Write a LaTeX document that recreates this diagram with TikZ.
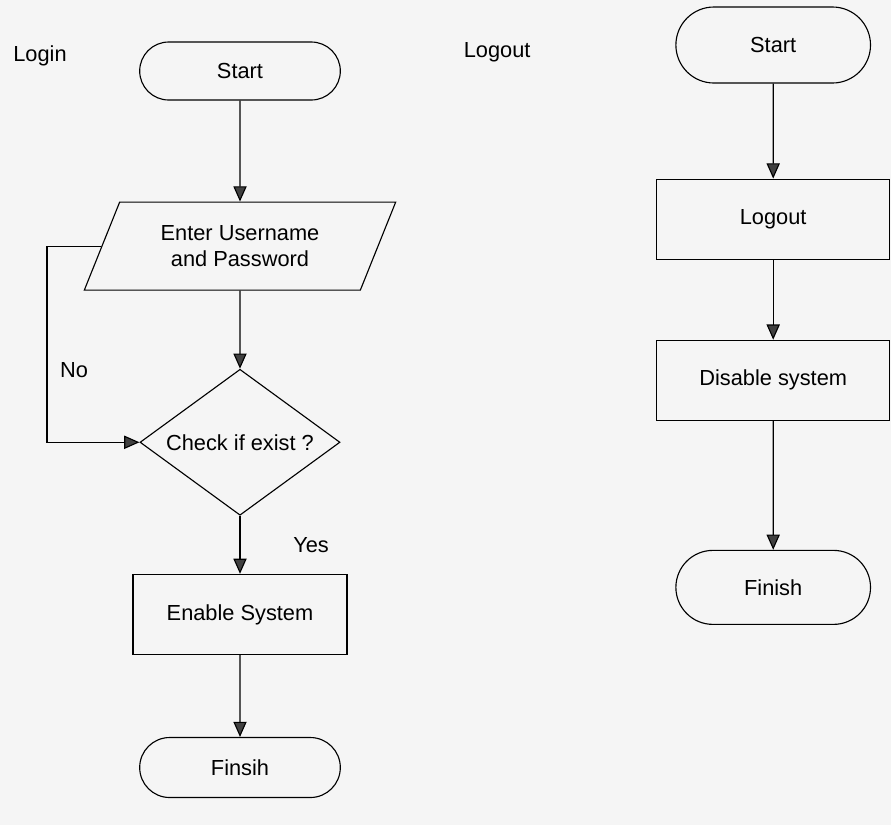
\documentclass[tikz,border=0pt]{standalone}
\usepackage{fontspec}
\setmainfont{Liberation Sans}
\usetikzlibrary{arrows.meta,positioning,shapes.geometric,shapes.misc}
\tikzset{pre/.style={<-,>={Triangle[width=3.3mm,length=3.8mm,fill=black!75]},line width=0.8pt},
		post/.style={->,>={Triangle[width=3.3mm,length=3.8mm,fill=black!75]},line width=0.8pt}}

\begin{document}
\begin{tikzpicture}[font=\fontsize{15.5}{18.5}\selectfont,
		terminal/.style={rounded rectangle,draw=black,line width=0.8pt,minimum width=5.25cm,minimum height=1.45cm},
		io/.style={trapezium,trapezium left angle=64,trapezium right angle=116,trapezium stretches=true,draw=black,line width=0.8pt,minimum width=7.8cm,minimum height=2.2cm,align=center},
		decision/.style={diamond,draw=black,line width=0.8pt,aspect=1.37,inner sep=0pt,minimum width=5cm,minimum height=3.65cm},
		process/.style={rectangle,draw=black,line width=0.8pt,minimum width=5.35cm,minimum height=2cm}]
		\fill[black!4] (0,0) rectangle (22.275,-20.625);
		\useasboundingbox (0,0) rectangle (22.275,-20.625);
		
		% login
		\node (login-title) at (1.0,-1.4) {Login};
		\node[terminal] (login-start) at (6.0,-1.775) {Start};
		\node[io] (enter) [below=2.525cm of login-start] {Enter Username\\and Password} edge[pre] (login-start);
		\node[decision] (check) [below=1.95cm of enter] {Check if exist ?} edge[pre] (enter);
		\node[process] (enable) [below=1.45cm of check] {Enable System} edge[pre] node[anchor=west,xshift=1.2cm] {Yes} (check);
		\node[terminal,minimum height=1.5cm] (login-finish) [below=2.05cm of enable] {Finsih} edge[pre] (enable);
		\coordinate (no-bend) at (1.175,0);
		\draw[post] (enter.west) -- (enter.west -| no-bend) |- node[pos=0.315,anchor=west,xshift=0.2cm] {No} (check.west);
		
		% logout
		\node (logout-title) at (12.43,-1.3) {Logout};
		\node[terminal,minimum width=5.1cm,minimum height=1.9cm] (logout-start) at (19.33,-1.125) {Start};
		\node[process,minimum width=5.83cm] (logout) [below=2.375cm of logout-start] {Logout} edge[pre] (logout-start);
		\node[process,minimum width=5.83cm] (disable) [below=2cm of logout] {Disable system} edge[pre] (logout);
		\node[terminal,minimum width=5.1cm,minimum height=1.85cm] (logout-finish) [below=3.225cm of disable] {Finish} edge[pre] (disable);
	\end{tikzpicture}
\end{document}
